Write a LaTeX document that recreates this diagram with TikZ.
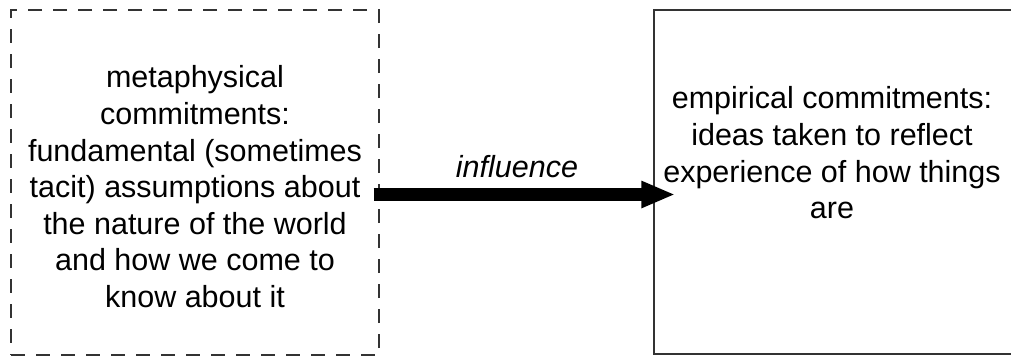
\documentclass[tikz,border=0pt]{standalone}
\usepackage{fontspec}
\setmainfont{Liberation Sans}
\usetikzlibrary{arrows.meta}
\begin{document}
\begin{tikzpicture}[x=1pt,y=-1pt,
  boxtext/.style={align=center, anchor=north, inner sep=0pt, font=\fontsize{30.5}{36.6}\selectfont},
  dashbox/.style={draw=black!80, line width=1.3pt, dash pattern=on 14pt off 11pt, inner sep=0pt, minimum width=368pt, minimum height=345pt},
  solidbox/.style={draw=black!80, line width=1.5pt, inner sep=0pt, minimum width=360pt, minimum height=344pt},
  bigarrow/.style={line width=13pt, -{Triangle[length=34pt,width=25pt]}}]
\useasboundingbox (0,0) rectangle (1011,356);
\node[dashbox] (leftbox) at (195,182.5) {};
\node[solidbox] (rightbox) at (834,182) {};
\node[boxtext] (lefttext) at (195,65.5) {metaphysical\\commitments:\\fundamental (sometimes\\tacit) assumptions about\\the nature of the world\\and how we come to\\know about it};
\node[boxtext] (righttext) at (832,86.5) {empirical commitments:\\ideas taken to reflect\\experience of how things\\are};
\coordinate (arrowy) at (0,194.5);
\draw[bigarrow] ([xshift=-6pt]leftbox.east |- arrowy) -- ([xshift=22pt]rightbox.west |- arrowy);
\node[anchor=base, inner sep=0pt, font=\fontsize{30.5}{36.6}\selectfont\itshape] (influence) at (517,177) {influence};
\end{tikzpicture}
\end{document}
